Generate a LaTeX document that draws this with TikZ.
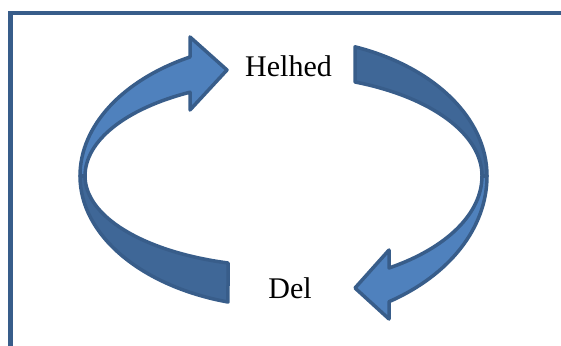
\documentclass[tikz,border=0pt]{standalone}
\usepackage{fontspec}
\setmainfont{Liberation Serif}
\definecolor{front}{HTML}{4F81BD}
\definecolor{back}{HTML}{3F6797}
\definecolor{rim}{HTML}{385D8A}

\begin{document}
\begin{tikzpicture}[x=1pt,y=1pt]
            \useasboundingbox (0,0) rectangle (561,345);
            \clip (0,0) rectangle (561,345);
            \draw[rim,line width=4.5] (10.5,-20) -- (10.5,332) -- (600,332);

            % back halves of the ring
            \filldraw[fill=back,draw=rim,line width=3.5,line join=round] (80,169) arc[start angle=180,end angle=254.17,x radius=203.5,y radius=131] -- (228,82) arc[start angle=253.76,end angle=180,x radius=198.5,y radius=90.6] -- cycle;
            \filldraw[fill=back,draw=rim,line width=3.5,line join=round] (487,169) arc[start angle=0,end angle=69.43,x radius=203.5,y radius=138] -- (355,263) arc[start angle=68.89,end angle=0,x radius=198.5,y radius=100.7] -- cycle;

            % front halves with heads
            \filldraw[fill=front,draw=rim,line width=3.5,line join=round] (80,169) arc[start angle=180,end angle=117.35,x radius=203.5,y radius=134] -- (190,308) -- (227,275) -- (190,235) -- (190,252.8) arc[start angle=118.1,end angle=180,x radius=198.5,y radius=95] -- cycle;
            \filldraw[fill=front,draw=rim,line width=3.5,line join=round] (487,169) arc[start angle=360,end angle=301.23,x radius=203.5,y radius=147] -- (389,26) -- (355,57) -- (389,95) -- (389,77) arc[start angle=302.11,end angle=360,x radius=198.5,y radius=108.6] -- cycle;

            \node[anchor=base,inner sep=0,font=\fontsize{30}{36}\selectfont] (helhed) at (288.5,268) {Helhed};
            \node[anchor=base,inner sep=0,font=\fontsize{30}{36}\selectfont] (del) at (290,47) {Del};
        \end{tikzpicture}
\end{document}
